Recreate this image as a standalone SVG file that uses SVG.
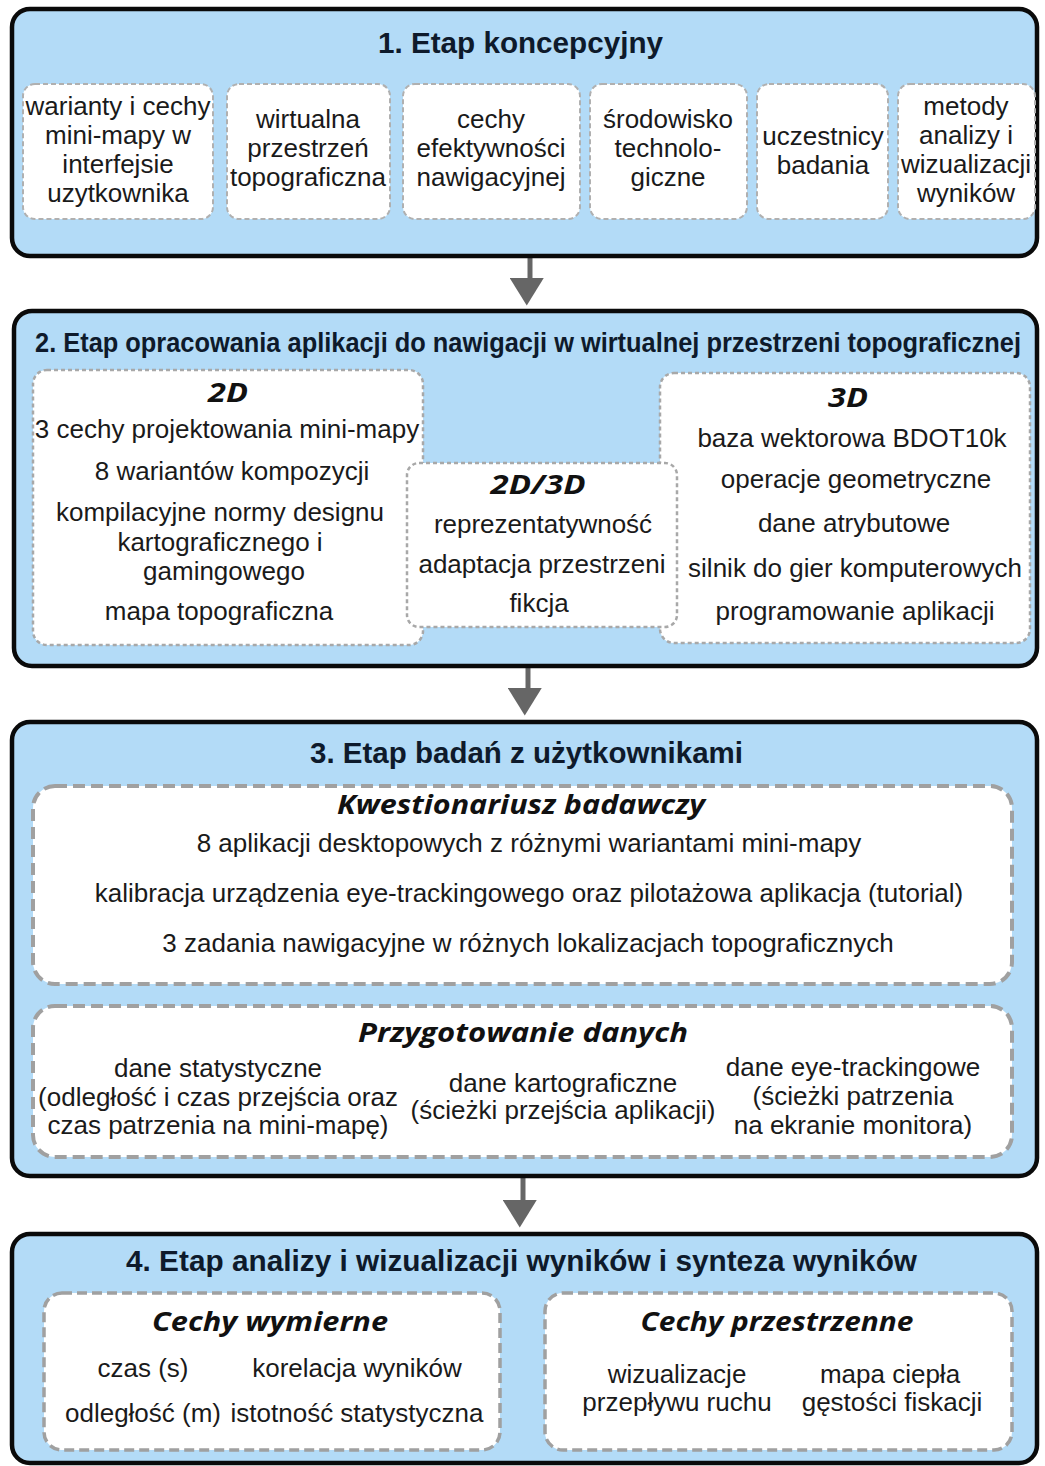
<svg xmlns="http://www.w3.org/2000/svg" width="1045" height="1466" viewBox="0 0 1045 1466">
<defs>
<style>
.stage{fill:#b3dbf7;stroke:#0a0a0a;stroke-width:4.5}
.card{fill:#ffffff;stroke:#b0b0b0;stroke-width:2;stroke-dasharray:5 3}
.dot{fill:#ffffff;stroke:#a8a8a8;stroke-width:2.5;stroke-dasharray:4 3}
.thick{fill:#ffffff;stroke:#a0a0a0;stroke-width:4;stroke-dasharray:12 6}
.mid{fill:#ffffff;stroke:#a0a0a0;stroke-width:3.5;stroke-dasharray:10 5}
.t{font-family:"Liberation Sans",Arial,sans-serif;font-size:26px;fill:#1a1a1a;text-anchor:middle}
.title{font-family:"Liberation Sans",Arial,sans-serif;font-size:30px;font-weight:bold;fill:#0e1a2b;text-anchor:middle}
.sub{font-family:"Open Sans",Lato,sans-serif;font-size:27px;font-weight:bold;font-style:italic;fill:#111;text-anchor:middle}
.arrow{stroke:#666;stroke-width:5;fill:none}
</style>
<marker id="head" markerUnits="userSpaceOnUse" markerWidth="42" markerHeight="34" refX="0" refY="17" orient="auto" viewBox="0 0 34 42">
<path d="M0,0 L34,21 L0,42 Z" fill="#666"/>
</marker>
</defs>
<rect width="1045" height="1466" fill="#ffffff"/>

<g id="connectors">
<line class="arrow" x1="530" y1="257" x2="530" y2="278" marker-end="url(#head)"/>
<line class="arrow" x1="528" y1="667" x2="528" y2="688" marker-end="url(#head)"/>
<line class="arrow" x1="523" y1="1178" x2="523" y2="1200" marker-end="url(#head)"/>
</g>

<g id="stage1">
<rect class="stage" x="12" y="9" width="1025" height="247" rx="18"/>
<text class="title" x="520.5" y="53" textLength="285" lengthAdjust="spacingAndGlyphs">1. Etap koncepcyjny</text>
<g id="s1a"><rect class="card" x="23" y="84" width="190" height="135" rx="12"/>
<text class="t" x="118" y="115">warianty i cechy</text><text class="t" x="118" y="144">mini-mapy w</text><text class="t" x="118" y="173">interfejsie</text><text class="t" x="118" y="202">uzytkownika</text></g>
<g id="s1b"><rect class="card" x="227" y="84" width="163" height="135" rx="12"/>
<text class="t" x="308" y="128">wirtualna</text><text class="t" x="308" y="157">przestrzeń</text><text class="t" x="308" y="186">topograficzna</text></g>
<g id="s1c"><rect class="card" x="403" y="84" width="177" height="135" rx="12"/>
<text class="t" x="491" y="128">cechy</text><text class="t" x="491" y="157">efektywności</text><text class="t" x="491" y="186">nawigacyjnej</text></g>
<g id="s1d"><rect class="card" x="590" y="84" width="157" height="135" rx="12"/>
<text class="t" x="668" y="128">środowisko</text><text class="t" x="668" y="157">technolo-</text><text class="t" x="668" y="186">giczne</text></g>
<g id="s1e"><rect class="card" x="757" y="84" width="131" height="135" rx="12"/>
<text class="t" x="823" y="145">uczestnicy</text><text class="t" x="823" y="174">badania</text></g>
<g id="s1f"><rect class="card" x="898" y="84" width="137" height="135" rx="12"/>
<text class="t" x="966" y="115">metody</text><text class="t" x="966" y="144">analizy i</text><text class="t" x="966" y="173">wizualizacji</text><text class="t" x="966" y="202">wyników</text></g>
</g>

<g id="stage2">
<rect class="stage" x="14" y="311" width="1023" height="355" rx="18"/>
<text class="title" transform="translate(528,352) scale(0.78,1)" x="0" y="0" style="font-size:28px" textLength="1264" lengthAdjust="spacingAndGlyphs">2. Etap opracowania aplikacji do nawigacji w wirtualnej przestrzeni topograficznej</text>
<g id="s2d"><rect class="dot" x="33" y="370" width="390" height="275" rx="14"/>
<text class="sub" x="228" y="402" textLength="40" lengthAdjust="spacingAndGlyphs">2D</text>
<text class="t" x="227" y="438">3 cechy projektowania mini-mapy</text>
<text class="t" x="232" y="480">8 wariantów kompozycji</text>
<text class="t" x="220" y="521">kompilacyjne normy designu</text>
<text class="t" x="220" y="551">kartograficznego i</text>
<text class="t" x="224" y="580">gamingowego</text>
<text class="t" x="219" y="620">mapa topograficzna</text></g>
<g id="s3d"><rect class="dot" x="660" y="373" width="370" height="270" rx="14"/>
<text class="sub" x="848" y="407" textLength="40" lengthAdjust="spacingAndGlyphs">3D</text>
<text class="t" x="852" y="447">baza wektorowa BDOT10k</text>
<text class="t" x="856" y="488">operacje geometryczne</text>
<text class="t" x="854" y="532">dane atrybutowe</text>
<text class="t" x="855" y="577">silnik do gier komputerowych</text>
<text class="t" x="855" y="620">programowanie aplikacji</text></g>
<g id="s23d"><rect class="dot" x="407" y="463" width="270" height="164" rx="12"/>
<text class="sub" x="538" y="494" textLength="95" lengthAdjust="spacingAndGlyphs">2D/3D</text>
<text class="t" x="543" y="533">reprezentatywność</text>
<text class="t" x="542" y="573">adaptacja przestrzeni</text>
<text class="t" x="539" y="612">fikcja</text></g>
</g>

<g id="stage3">
<rect class="stage" x="12" y="722" width="1025" height="454" rx="18"/>
<text class="title" x="526.5" y="763" textLength="433" lengthAdjust="spacingAndGlyphs">3. Etap badań z użytkownikami</text>
<g id="s3q"><rect class="thick" x="33" y="786" width="979" height="198" rx="22"/>
<text class="sub" x="521" y="814" textLength="368" lengthAdjust="spacingAndGlyphs">Kwestionariusz badawczy</text>
<text class="t" x="529" y="852">8 aplikacji desktopowych z różnymi wariantami mini-mapy</text>
<text class="t" x="529" y="902">kalibracja urządzenia eye-trackingowego oraz pilotażowa aplikacja (tutorial)</text>
<text class="t" x="528" y="952">3 zadania nawigacyjne w różnych lokalizacjach topograficznych</text></g>
<g id="s3p"><rect class="thick" x="33" y="1006" width="979" height="151" rx="22"/>
<text class="sub" x="523" y="1042" textLength="330" lengthAdjust="spacingAndGlyphs">Przygotowanie danych</text>
<text class="t" x="218" y="1077">dane statystyczne</text>
<text class="t" x="218" y="1106">(odległość i czas przejścia oraz</text>
<text class="t" x="218" y="1134">czas patrzenia na mini-mapę)</text>
<text class="t" x="563" y="1092">dane kartograficzne</text>
<text class="t" x="563" y="1119">(ścieżki przejścia aplikacji)</text>
<text class="t" x="853" y="1076">dane eye-trackingowe</text>
<text class="t" x="853" y="1105">(ścieżki patrzenia</text>
<text class="t" x="853" y="1134">na ekranie monitora)</text></g>
</g>

<g id="stage4">
<rect class="stage" x="12" y="1234" width="1025" height="229" rx="18"/>
<text class="title" x="521.5" y="1271" textLength="791" lengthAdjust="spacingAndGlyphs">4. Etap analizy i wizualizacji wyników i synteza wyników</text>
<g id="s4a"><rect class="mid" x="44" y="1293" width="456" height="157" rx="18"/>
<text class="sub" x="270" y="1331" textLength="236" lengthAdjust="spacingAndGlyphs">Cechy wymierne</text>
<text class="t" x="143" y="1377">czas (s)</text>
<text class="t" x="357" y="1377">korelacja wyników</text>
<text class="t" x="143" y="1422">odległość (m)</text>
<text class="t" x="357" y="1422">istotność statystyczna</text></g>
<g id="s4b"><rect class="mid" x="545" y="1293" width="467" height="157" rx="18"/>
<text class="sub" x="777" y="1331" textLength="273" lengthAdjust="spacingAndGlyphs">Cechy przestrzenne</text>
<text class="t" x="677" y="1383">wizualizacje</text>
<text class="t" x="677" y="1411">przepływu ruchu</text>
<text class="t" x="890" y="1383">mapa ciepła</text>
<text class="t" x="892" y="1411">gęstości fiskacji</text></g>
</g>
</svg>
